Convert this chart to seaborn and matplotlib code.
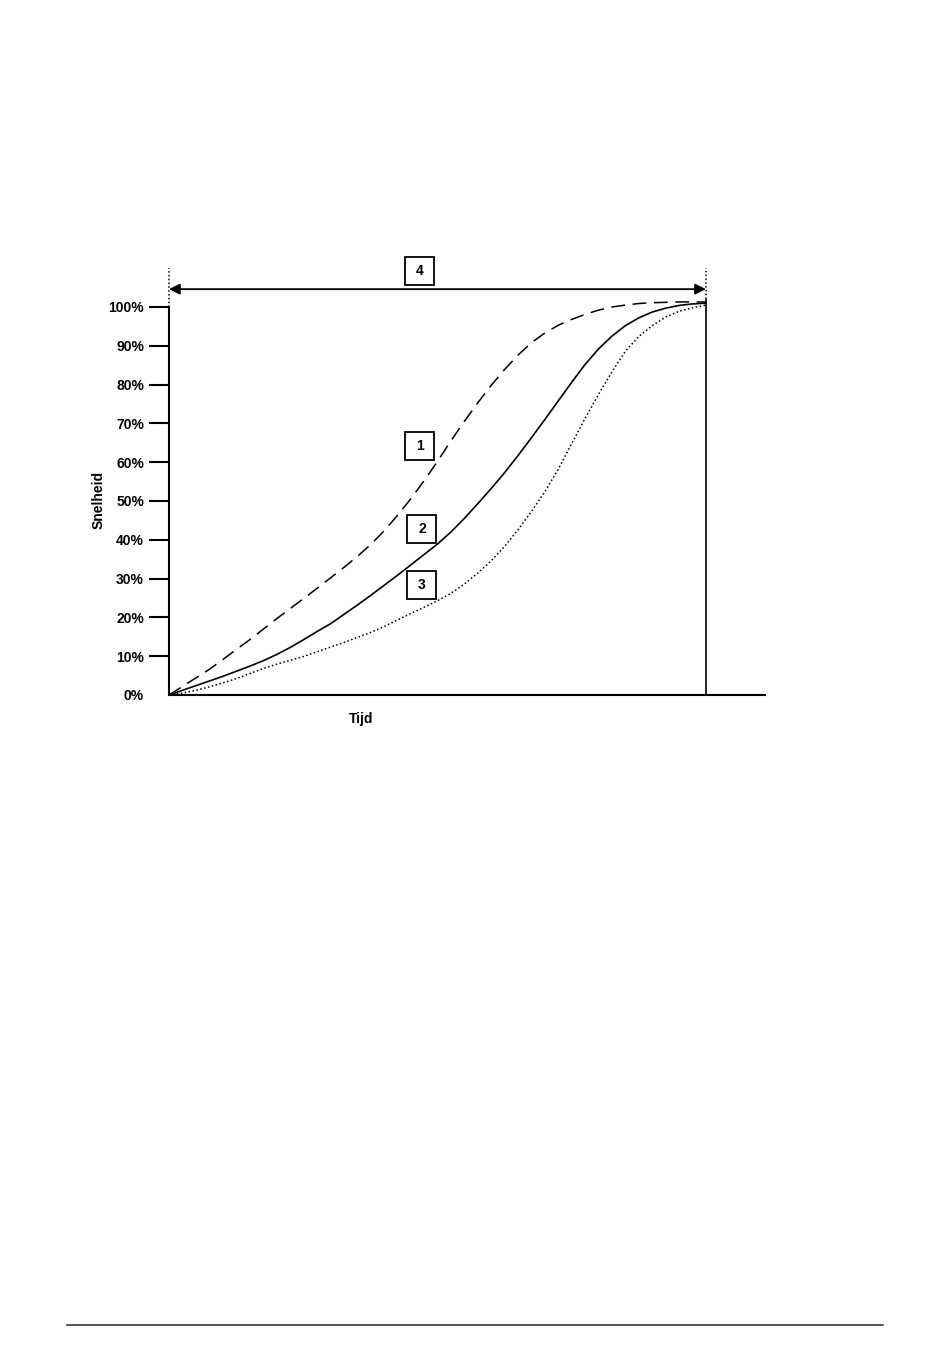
import matplotlib
matplotlib.use("Agg")
import matplotlib.pyplot as plt
import seaborn as sns
import pandas as pd
from matplotlib.patches import Rectangle
from matplotlib.lines import Line2D

# ---- data ----
tijd = [0, 2.5, 5, 7.5, 10, 12.5, 15, 17.5, 20, 22.5, 25, 27.5, 30, 32.5, 35, 37.5,
        40, 42.5, 45, 47.5, 50, 52.5, 55, 57.5, 60, 62.5, 65, 67.5, 70, 72.5, 75,
        77.5, 80, 82.5, 85, 87.5, 90, 92.5, 95, 97.5, 100]
curve1 = [0, 2.2, 4.4, 6.6, 9.1, 11.7, 14.2, 16.9, 19.6, 22.2, 24.8, 27.4, 30.1, 32.8,
          35.6, 38.7, 42.2, 46.2, 50.5, 55.2, 60.2, 65.5, 70.5, 75.3, 79.8, 83.9, 87.6, 90.8,
          93.3, 95.3, 96.8, 98.1, 99.2, 100, 100.5, 100.9, 101.1, 101.2, 101.3, 101.3, 101.3]
curve2 = [0, 1.2, 2.4, 3.6, 4.8, 6.1, 7.4, 8.8, 10.4, 12.2, 14.2, 16.3, 18.3, 20.7,
          23.1, 25.6, 28.2, 30.8, 33.5, 36.2, 38.9, 42, 45.5, 49.3, 53.2, 57.3, 61.7,
          66.3, 71, 75.8, 80.6, 85.2, 89.2, 92.5, 95.2, 97.2, 98.7, 99.7, 100.4, 100.8, 101]
curve3 = [0, 0.5, 1.2, 2.1, 3.1, 4.2, 5.5, 6.8, 7.9, 8.9, 9.9, 11.1, 12.3, 13.5, 14.8,
          16.1, 17.6, 19.3, 21, 22.6, 24.3, 26.2, 28.6, 31.4, 34.6, 38.3, 42.6, 47.3, 52.4,
          58.2, 64.8, 71.3, 77.5, 83.3, 88.6, 92.4, 95.2, 97.4, 98.9, 99.8, 100.5]
ytick_vals = [0, 10, 20, 30, 40, 50, 60, 70, 80, 90, 100]
ytick_labels = ["0%", "10%", "20%", "30%", "40%", "50%", "60%", "70%", "80%", "90%", "100%"]
box_labels = ["1", "2", "3", "4"]
box_x = [46.7, 47.1, 47.1, 46.7]
box_y = [64.2, 42.8, 28.4, 109.3]
arrow_y = 104.6

sns.set_theme(style="white")
plt.rcParams["font.family"] = ["Liberation Sans", "DejaVu Sans"]
plt.rcParams["text.color"] = "black"
plt.rcParams["ytick.color"] = "black"
plt.rcParams["axes.labelcolor"] = "black"

fig = plt.figure(figsize=(9.5, 13.6), dpi=100)
W, H = 950, 1360
x0, x1 = 169, 765
y0 = 695
pxu = 3.88
ytop = 112.0
ax = fig.add_axes([x0 / W, 1 - y0 / H, (x1 - x0) / W, ytop * pxu / H])
ax.set_xlim(0, 111)
ax.set_ylim(0, ytop)

df = pd.DataFrame({"Tijd": tijd, "c1": curve1, "c2": curve2, "c3": curve3})
sns.lineplot(data=df, x="Tijd", y="c1", ax=ax, color="black", lw=1.1,
             linestyle=(0, (9, 5)))
sns.lineplot(data=df, x="Tijd", y="c2", ax=ax, color="black", lw=1.2)
sns.lineplot(data=df, x="Tijd", y="c3", ax=ax, color="black", lw=1.1,
             linestyle=(0, (1, 1.6)))

# spines
for s in ["top", "right"]:
    ax.spines[s].set_visible(False)
ax.spines["left"].set_bounds(0, 100)
ax.spines["left"].set_linewidth(1.5)
ax.spines["left"].set_color("black")
ax.spines["bottom"].set_linewidth(1.5)
ax.spines["bottom"].set_color("black")

ax.set_yticks(ytick_vals)
ax.set_yticklabels(ytick_labels, fontsize=10, fontweight="bold", color="black")
ax.tick_params(axis="y", which="both", left=True, length=14.5, width=1.5,
               color="black", pad=3.5, direction="out")
ax.yaxis.get_major_ticks()[0].tick1line.set_visible(False)
ax.set_xticks([])
ax.set_xlabel("")
ax.set_ylabel("")

ax.text(35.7, -6.3, "Tijd", fontsize=10, fontweight="bold", color="black",
        ha="center", va="center")
ax.text(-13.1, 50.3, "Snelheid", fontsize=10, fontweight="bold", rotation=90,
        color="black", ha="center", va="center")

# vertical end line and dotted markers
ax.plot([100, 100], [0, 102], color="black", lw=1.2, solid_capstyle="butt")
ax.plot([0, 0], [100, 110], color="black", lw=1.1, linestyle=(0, (1, 1.5)), clip_on=False)
ax.plot([100, 100], [102, 110], color="black", lw=1.1, linestyle=(0, (1, 1.5)), clip_on=False)

# arrow
ax.annotate("", xy=(100, arrow_y), xytext=(0, arrow_y),
            arrowprops=dict(arrowstyle="<|-|>", color="black", lw=1.3,
                            mutation_scale=16, shrinkA=0, shrinkB=0))

# numbered boxes
bw, bh = 29 / 5.37, 28 / pxu
for lab, bx, by in zip(box_labels, box_x, box_y):
    ax.add_patch(Rectangle((bx - bw / 2, by - bh / 2), bw, bh, fill=True,
                           facecolor="white", edgecolor="black", lw=1.3,
                           clip_on=False, zorder=5))
    ax.text(bx, by, lab, fontsize=10, fontweight="bold", ha="center", va="center",
            color="black", zorder=6, clip_on=False)

# bottom rule
fig.add_artist(Line2D([67 / W, 883 / W], [1 - 1325 / H, 1 - 1325 / H],
                      color="#595959", lw=1.5))

fig.savefig("out.png", dpi=100, facecolor="white")
